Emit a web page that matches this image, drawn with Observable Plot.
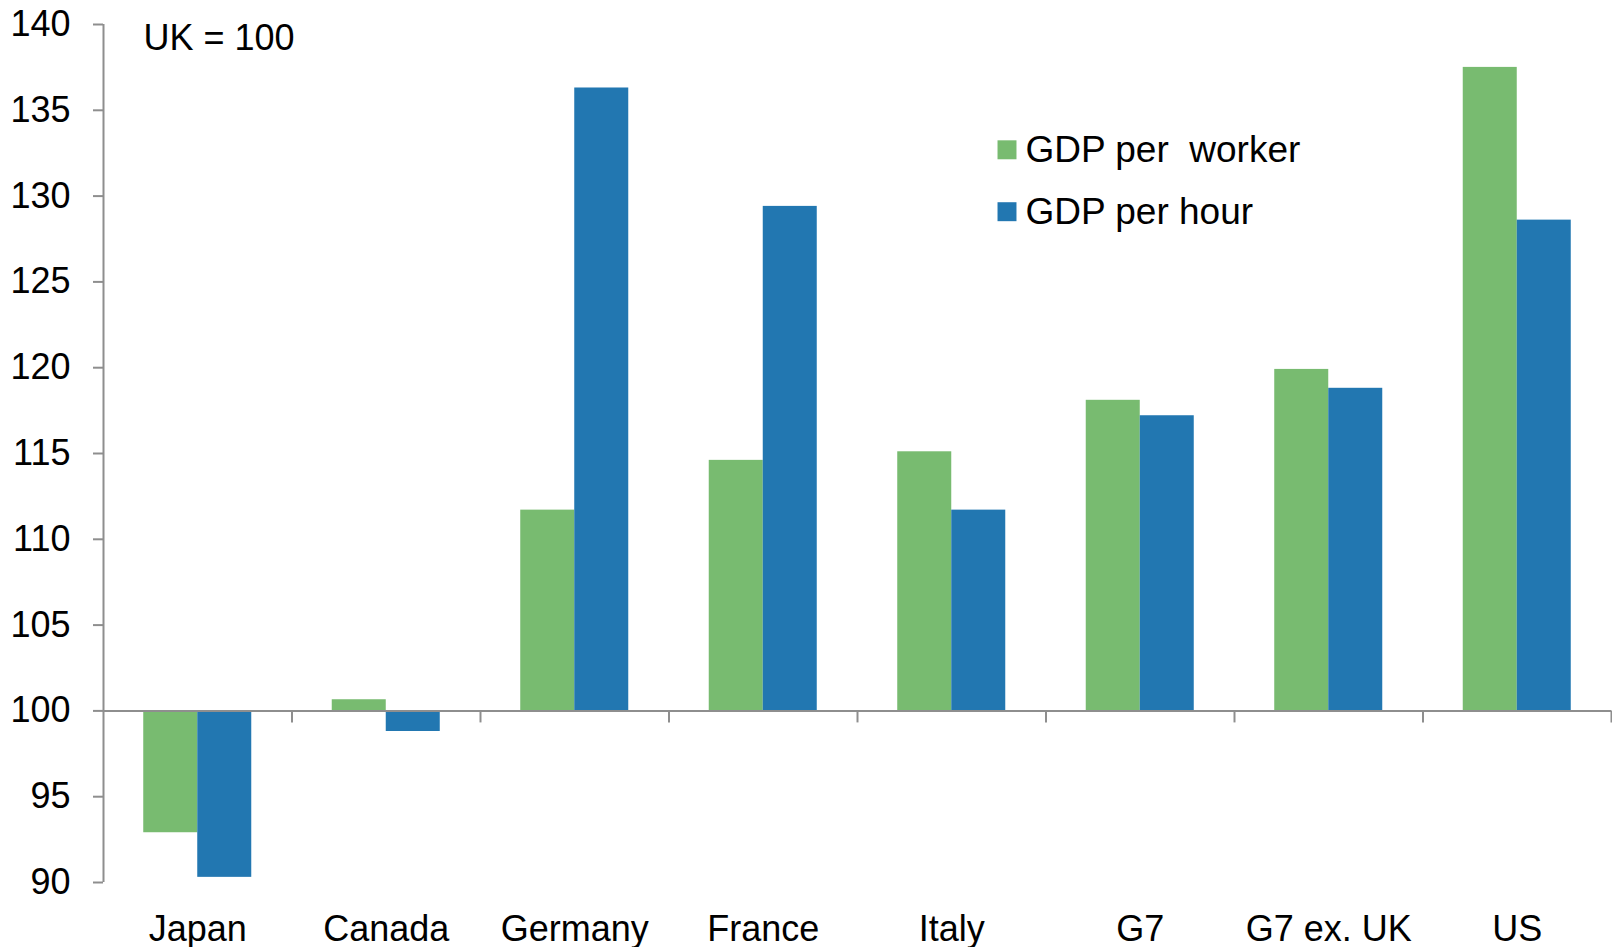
<!DOCTYPE html>
<html>
<head>
<meta charset="utf-8">
<script src="https://cdn.jsdelivr.net/npm/d3@7"></script>
<script src="https://cdn.jsdelivr.net/npm/@observablehq/plot@0.6"></script>
<style>
  html, body { margin: 0; padding: 0; background: #fff; }
  svg { display: block; }
</style>
</head>
<body>
<div id="chart"></div>
<script>
// Labour productivity relative to the UK (UK = 100)
const countries = ["Japan", "Canada", "Germany", "France", "Italy", "G7", "G7 ex. UK", "US"];
const gdpPerWorker = [92.9, 100.65, 111.7, 114.6, 115.1, 118.1, 119.9, 137.5];
const gdpPerHour = [90.3, 98.8, 136.3, 129.4, 111.7, 117.2, 118.8, 128.6];
const seriesNames = ["GDP per\u00a0 worker", "GDP per hour"];
const yTicks = [90, 95, 100, 105, 110, 115, 120, 125, 130, 135, 140];
const baseline = 100;
const note = "UK = 100";

const colors = ["#78BB70", "#2277B1"];
const axisGray = "#8E8E8E";
const barWidth = 0.2865; // share of a category slot taken by one bar

const rows = countries.flatMap((country, i) => [
  {country, i, k: 0, series: seriesNames[0], value: gdpPerWorker[i]},
  {country, i, k: 1, series: seriesNames[1], value: gdpPerHour[i]}
]);

const legendMarks = seriesNames.flatMap((name, k) => [
  Plot.dot([name], {
    frameAnchor: "top-left", dx: 903.5, dy: 125.3 + 61.9 * k,
    symbol: "square", r: 10.7, fill: colors[k], stroke: "none"
  }),
  Plot.text([name], {
    frameAnchor: "top-left", dx: 922, dy: 125.3 + 61.9 * k,
    text: d => d, textAnchor: "start", lineAnchor: "middle", fill: "black", fontSize: 37
  })
]);

const chart = Plot.plot({
  width: 1612,
  height: 947,
  marginLeft: 103,
  marginRight: 1,
  marginTop: 24,
  marginBottom: 65,
  style: {fontFamily: "'Liberation Sans', Arial, sans-serif", fontSize: "36px", color: "black", background: "white"},
  x: {domain: [0, countries.length], axis: null},
  y: {domain: [90, 140], axis: null},
  color: {domain: seriesNames, range: colors},
  marks: [
    Plot.rect(rows, {
      x1: d => d.i + 0.5 - (d.k === 0 ? barWidth : 0),
      x2: d => d.i + 0.5 + (d.k === 1 ? barWidth : 0),
      y1: baseline,
      y2: "value",
      fill: "series"
    }),
    Plot.ruleY([baseline], {x1: 0, x2: countries.length, stroke: axisGray, strokeWidth: 2}),
    Plot.ruleX(d3.range(1, countries.length + 1), {y1: baseline, y2: baseline - 0.7, stroke: axisGray, strokeWidth: 2}),
    Plot.ruleX([0], {y1: 90, y2: 140, stroke: axisGray, strokeWidth: 2}),
    Plot.axisY({ticks: yTicks, tickSize: 10, tickPadding: 23, stroke: axisGray, strokeWidth: 2, fill: "black", label: null, tickFormat: d => String(d)}),
    Plot.axisX({
      ticks: countries.map((c, i) => i + 0.5),
      tickFormat: d => countries[Math.floor(d)],
      tickSize: 0, tickPadding: 33, fill: "black", label: null
    }),
    Plot.text([note], {frameAnchor: "top-left", dx: 40, dy: 0, text: d => d, textAnchor: "start", lineAnchor: "top", fill: "black"}),
    ...legendMarks
  ]
});

document.getElementById("chart").appendChild(chart);
</script>
</body>
</html>
